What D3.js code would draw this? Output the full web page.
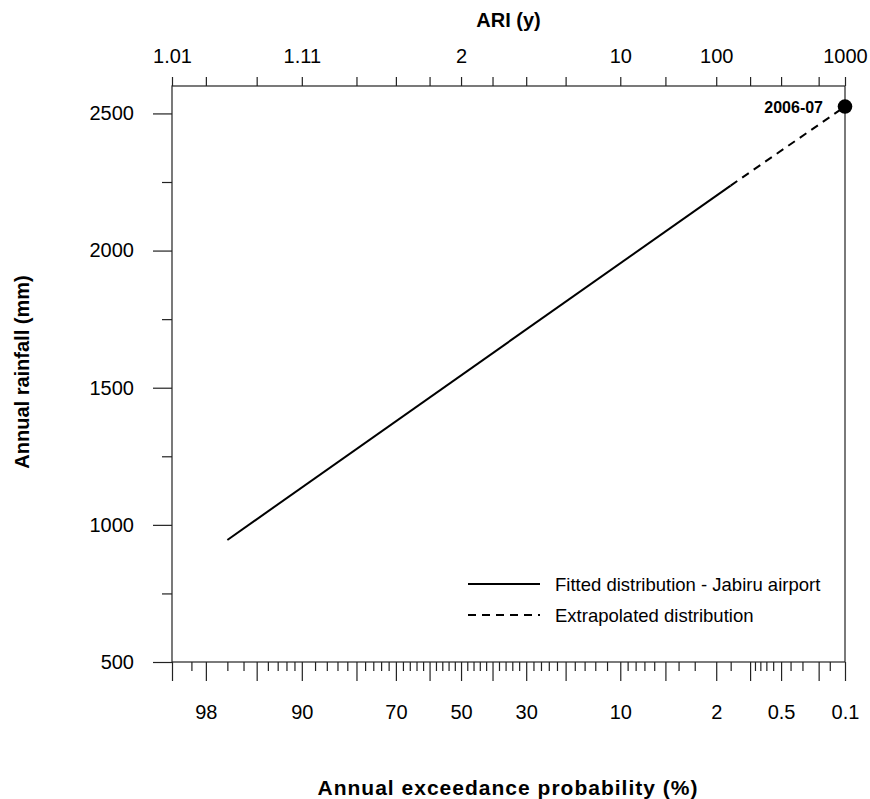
<!DOCTYPE html>
<html>
<head>
<meta charset="utf-8">
<script src="https://cdn.jsdelivr.net/npm/d3@7"></script>
<style>
  html, body { margin: 0; padding: 0; background: #fff; }
  svg { display: block; font-family: "Liberation Sans", Arial, sans-serif; }
</style>
</head>
<body>
<svg id="chart" width="870" height="799"></svg>
<script>
// ---------------- data ----------------
const aepMajorTicks = [99, 98, 95, 90, 80, 70, 60, 50, 40, 30, 20, 10, 5, 2, 1, 0.5, 0.2, 0.1];
const aepMinorTicks = [98.5, 97, 96, 94, 93, 92, 91, 88, 86, 84, 82, 78, 76, 74, 72, 68, 66, 64, 62,
  58, 56, 54, 52, 48, 46, 44, 42, 38, 36, 34, 32, 28, 26, 24, 22, 18, 16, 14, 12, 9, 8, 7, 6, 4, 3,
  1.5, 0.9, 0.8, 0.7, 0.6, 0.4, 0.3, 0.15];
const aepLabelValues = [98, 90, 70, 50, 30, 10, 2, 0.5, 0.1];
const aepLabelTexts = ["98", "90", "70", "50", "30", "10", "2", "0.5", "0.1"];
const ariLabelAEP = [99, 90, 50, 10, 2, 0.1];
const ariLabelTexts = ["1.01", "1.11", "2", "10", "100", "1000"];
const yMajorTicks = [500, 1000, 1500, 2000, 2500];
const yMinorTicks = [750, 1250, 1750, 2250];
const fittedAEP = [97, 1.5];
const fittedMM = [945, 2237];
const extrapAEP = [1.5, 0.1];
const extrapMM = [2237, 2525];
const eventLabel = "2006-07";
const eventAEP = 0.1;
const eventMM = 2525;
const legendLabels = ["Fitted distribution - Jabiru airport", "Extrapolated distribution"];

// ------------- normal probability transform -------------
function qnorm(p) {
  const a = [-3.969683028665376e+01, 2.209460984245205e+02, -2.759285104469687e+02, 1.383577518672690e+02, -3.066479806614716e+01, 2.506628277459239e+00];
  const b = [-5.447609879822406e+01, 1.615858368580409e+02, -1.556989798598866e+02, 6.680131188771972e+01, -1.328068155288572e+01];
  const c = [-7.784894002430293e-03, -3.223964580411365e-01, -2.400758277161838e+00, -2.549732539343734e+00, 4.374664141464968e+00, 2.938163982698783e+00];
  const d = [7.784695709041462e-03, 3.224671290700398e-01, 2.445134137142996e+00, 3.754408661907416e+00];
  const pl = 0.02425, ph = 1 - pl;
  let q, r;
  if (p < pl) {
    q = Math.sqrt(-2 * Math.log(p));
    return (((((c[0]*q+c[1])*q+c[2])*q+c[3])*q+c[4])*q+c[5]) / ((((d[0]*q+d[1])*q+d[2])*q+d[3])*q+1);
  }
  if (p <= ph) {
    q = p - 0.5; r = q * q;
    return (((((a[0]*r+a[1])*r+a[2])*r+a[3])*r+a[4])*r+a[5])*q / (((((b[0]*r+b[1])*r+b[2])*r+b[3])*r+b[4])*r+1);
  }
  q = Math.sqrt(-2 * Math.log(1 - p));
  return -(((((c[0]*q+c[1])*q+c[2])*q+c[3])*q+c[4])*q+c[5]) / ((((d[0]*q+d[1])*q+d[2])*q+d[3])*q+1);
}
const zOf = aep => qnorm(1 - aep / 100);

// ---------------- layout ----------------
const svg = d3.select("#chart");
const X0 = 172, X1 = 845, Y0 = 662, Y1 = 86;
const xz = d3.scaleLinear().domain([zOf(99), zOf(0.1)]).range([X0, X1]);
const x = aep => xz(zOf(aep));
const y = d3.scaleLinear().domain([500, 2600]).range([Y0, Y1]);

const axisColor = "#222";
const font = "\"Liberation Sans\", Arial, sans-serif";

function styleAxis(g) {
  g.select(".domain").remove();
  g.selectAll("line").attr("stroke", axisColor).attr("stroke-width", 1.2);
  g.selectAll("text").attr("fill", "#000").attr("font-family", font);
}

// frame
svg.append("rect").attr("x", X0).attr("y", Y1).attr("width", X1 - X0).attr("height", Y0 - Y1)
  .attr("fill", "none").attr("stroke", axisColor).attr("stroke-width", 1.2);

// bottom axis: long ticks with labels
const labelMap = new Map(aepLabelValues.map((v, i) => [zOf(v).toFixed(6), aepLabelTexts[i]]));
const gBot = svg.append("g").attr("transform", `translate(0,${Y0})`)
  .call(d3.axisBottom(xz).tickValues(aepMajorTicks.map(zOf)).tickSize(19).tickPadding(24)
    .tickFormat(z => labelMap.get(z.toFixed(6)) || ""));
styleAxis(gBot);
gBot.selectAll("text").attr("font-size", 20);
const gBotMinor = svg.append("g").attr("transform", `translate(0,${Y0})`)
  .call(d3.axisBottom(xz).tickValues(aepMinorTicks.map(zOf)).tickSize(9).tickFormat(""));
styleAxis(gBotMinor);

// top axis: ARI
const ariMap = new Map(ariLabelAEP.map((v, i) => [zOf(v).toFixed(6), ariLabelTexts[i]]));
const gTop = svg.append("g").attr("transform", `translate(0,${Y1})`)
  .call(d3.axisTop(xz).tickValues(aepMajorTicks.map(zOf)).tickSize(9).tickPadding(14)
    .tickFormat(z => ariMap.get(z.toFixed(6)) || ""));
styleAxis(gTop);
gTop.selectAll("text").attr("font-size", 20);

// left axis
const gLeft = svg.append("g").attr("transform", `translate(${X0},0)`)
  .call(d3.axisLeft(y).tickValues(yMajorTicks).tickSize(19).tickPadding(19).tickFormat(d3.format("d")));
styleAxis(gLeft);
gLeft.selectAll("text").attr("font-size", 20);
const gLeftMinor = svg.append("g").attr("transform", `translate(${X0},0)`)
  .call(d3.axisLeft(y).tickValues(yMinorTicks).tickSize(10).tickFormat(""));
styleAxis(gLeftMinor);

// titles
svg.append("text").attr("x", (X0 + X1) / 2).attr("y", 27).attr("text-anchor", "middle")
  .attr("font-size", 20).attr("font-weight", "bold").attr("font-family", font).text("ARI (y)");
svg.append("text").attr("x", 507.5).attr("y", 795).attr("text-anchor", "middle")
  .attr("font-size", 21).attr("font-weight", "bold").attr("font-family", font)
  .attr("textLength", 380).attr("lengthAdjust", "spacing")
  .text("Annual exceedance probability (%)");
svg.append("text").attr("transform", `translate(29,${(Y0 + Y1) / 2 - 2}) rotate(-90)`).attr("text-anchor", "middle")
  .attr("font-size", 20).attr("font-weight", "bold").attr("font-family", font).text("Annual rainfall (mm)");

// lines
const line = d3.line().x(d => x(d[0])).y(d => y(d[1]));
svg.append("path").datum(fittedAEP.map((a, i) => [a, fittedMM[i]]))
  .attr("d", line).attr("fill", "none").attr("stroke", "#000").attr("stroke-width", 2);
svg.append("path").datum(extrapAEP.map((a, i) => [a, extrapMM[i]]))
  .attr("d", line).attr("fill", "none").attr("stroke", "#000").attr("stroke-width", 2)
  .attr("stroke-dasharray", "8,6");

// event point
svg.append("circle").attr("cx", x(eventAEP)).attr("cy", y(eventMM)).attr("r", 7.3).attr("fill", "#000");
svg.append("text").attr("x", x(eventAEP) - 22).attr("y", y(eventMM) + 6).attr("text-anchor", "end")
  .attr("font-size", 16).attr("font-weight", "bold").attr("font-family", font).text(eventLabel);

// legend
const leg = svg.append("g").attr("font-family", font);
const legY = [584, 615];
const dashes = ["", "8,6"];
legendLabels.forEach((t, i) => {
  leg.append("line").attr("x1", 468).attr("x2", 540).attr("y1", legY[i]).attr("y2", legY[i])
    .attr("stroke", "#000").attr("stroke-width", 2).attr("stroke-dasharray", dashes[i] || null);
  leg.append("text").attr("x", 555).attr("y", legY[i] + 6.5).attr("font-size", 18.5).text(t);
});
</script>
</body>
</html>
